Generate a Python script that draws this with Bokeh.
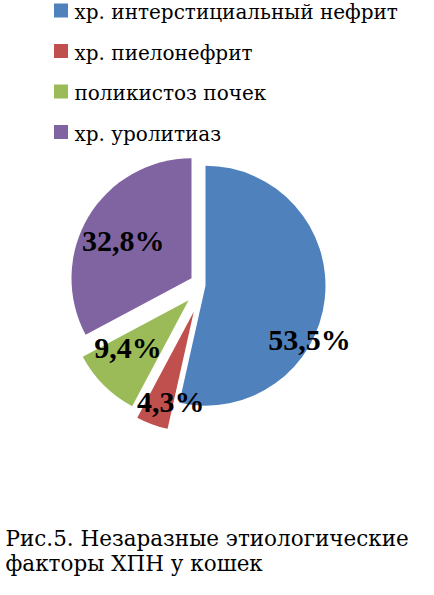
import math
from bokeh.plotting import figure
from bokeh.models import Range1d, ColumnDataSource
from bokeh.core.properties import value
from bokeh.embed import file_html
from bokeh.resources import INLINE

# ---- data ----
categories = ["хр. интерстициальный нефрит", "хр. пиелонефрит", "поликистоз почек", "хр. уролитиаз"]
shares = [53.5, 4.3, 9.4, 32.8]
labels = ["53,5%", "4,3%", "9,4%", "32,8%"]
caption_lines = ["Рис.5. Незаразные этиологические", "факторы  ХПН у кошек"]

# ---- styles / layout ----
colors = ["#4F81BD", "#C0504D", "#9BBB59", "#8064A2"]
explode = [2, 28, 21, 14]            # px offset of each slice
label_r = [117, 93, 77, 78]          # px from slice apex
label_shift = [21, -6, 7, -2]        # deg from slice mid-angle
W, H = 418, 579

def Y(img_y):
    return H - img_y

cx, cy, R = 203, Y(285), 120

p = figure(width=W, height=H, output_backend="svg", toolbar_location=None,
           x_range=Range1d(0, W), y_range=Range1d(0, H), min_border=0)
p.axis.visible = False
p.grid.visible = False
p.outline_line_color = None
p.background_fill_color = "white"

total = sum(shares)
cum = 0.0
wx, wy, sa, ea, lx, ly = [], [], [], [], [], []
for i, v in enumerate(shares):
    f0, f1 = cum / total, (cum + v) / total
    cum += v
    mid = (f0 + f1) / 2 * 2 * math.pi  # clockwise from 12 o'clock
    ox = cx + explode[i] * math.sin(mid)
    oy = cy + explode[i] * math.cos(mid)
    wx.append(ox); wy.append(oy)
    sa.append(math.pi / 2 - 2 * math.pi * f0)
    ea.append(math.pi / 2 - 2 * math.pi * f1)
    t = mid + math.radians(label_shift[i])
    lx.append(ox + label_r[i] * math.sin(t))
    ly.append(oy + label_r[i] * math.cos(t))

src = ColumnDataSource(dict(x=wx, y=wy, sa=sa, ea=ea, color=colors, lx=lx, ly=ly, lab=labels))
p.wedge(x="x", y="y", radius=R, radius_units="screen", start_angle="sa", end_angle="ea",
        direction="clock", fill_color="color", line_color=None, source=src)
p.text(x="lx", y="ly", text="lab", source=src, text_font=value("Liberation Serif"),
       text_font_style="bold", text_font_size="30px", text_align="center",
       text_baseline="middle", text_color="black")

# legend
sq_y = [Y(10 + 40.5 * i) for i in range(len(categories))]
tx_y = [Y(11.5 + 40.5 * i) for i in range(len(categories))]
p.rect(x=[60.5] * len(categories), y=sq_y, width=14, height=14,
       width_units="screen", height_units="screen", fill_color=colors, line_color=None)
p.text(x=[74] * len(categories), y=tx_y, text=categories, text_font=value("DejaVu Serif"),
       text_font_size="20px", text_align="left", text_baseline="middle", text_color="black")

# caption
p.text(x=[5, 5], y=[Y(538), Y(563)], text=caption_lines, text_font=value("DejaVu Serif"),
       text_font_size="21.5px", text_align="left", text_baseline="middle", text_color="black")

open("out.html", "w").write(file_html(p, INLINE))
